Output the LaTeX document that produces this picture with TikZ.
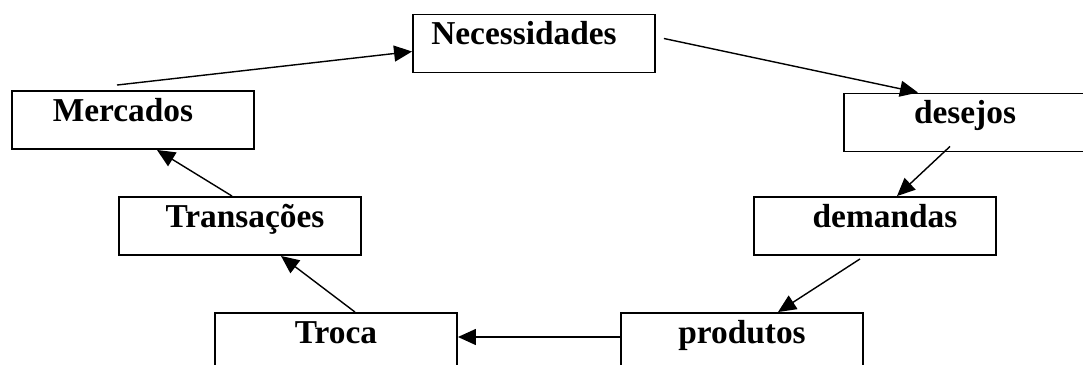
\documentclass[tikz,border=0pt]{standalone}
\usepackage{fontspec}
\setmainfont{Liberation Serif}
\usetikzlibrary{arrows.meta, positioning}

\tikzset{
  conceito/.style={draw, line width=1.1pt, rectangle, inner sep=0pt,
    minimum width=4.84cm, text height=0.6cm, text depth=0.56cm,
    font=\fontsize{19}{22}\selectfont\bfseries},
  seta/.style={->, line width=0.8pt}
}

\begin{document}
\begin{tikzpicture}[>={Triangle[length=3.6mm,width=3.2mm]}, x=0.02cm, y=-0.02cm]
  \useasboundingbox (0,0) rectangle (1083,365);
  \clip (0,0) rectangle (1083,365);

  % Boxes of the cycle
  \node[conceito] (nec)   at (534,43.5)  {\hspace*{-4mm}Necessidades};
  \node[conceito] (des)   at (965,122.5) {desejos};
  \node[conceito] (dem)   at (875,226)   {\hspace*{4mm}demandas};
  \node[conceito] (prod)  at (742,342)   {produtos};
  \node[conceito] (troca) at (336,342)   {Troca};
  \node[conceito] (trans) at (240,226)   {\hspace*{2mm}Transações};
  \node[conceito] (merc)  at (133,120)   {\hspace*{-4mm}Mercados};

  % Arrows going round
  \draw[seta] ([shift={(8,-5)}]nec.east) -- ([shift={(-47,0)}]des.north);
  \draw[seta] ([shift={(-15,-6)}]des.south) -- ([shift={(22,0)}]dem.north);
  \draw[seta] ([shift={(-15,3)}]dem.south) -- ([shift={(36,0)}]prod.north);
  \draw[seta] ([shift={(0,-5)}]prod.west) -- ([shift={(0,-5)}]troca.east);
  \draw[seta] ([shift={(19,0)}]troca.north) -- ([shift={(41,0)}]trans.south);
  \draw[seta] ([shift={(-8,0)}]trans.north) -- ([shift={(24,0)}]merc.south);
  \draw[seta] ([shift={(-16,-5)}]merc.north) -- ([shift={(0,8)}]nec.west);
\end{tikzpicture}
\end{document}
